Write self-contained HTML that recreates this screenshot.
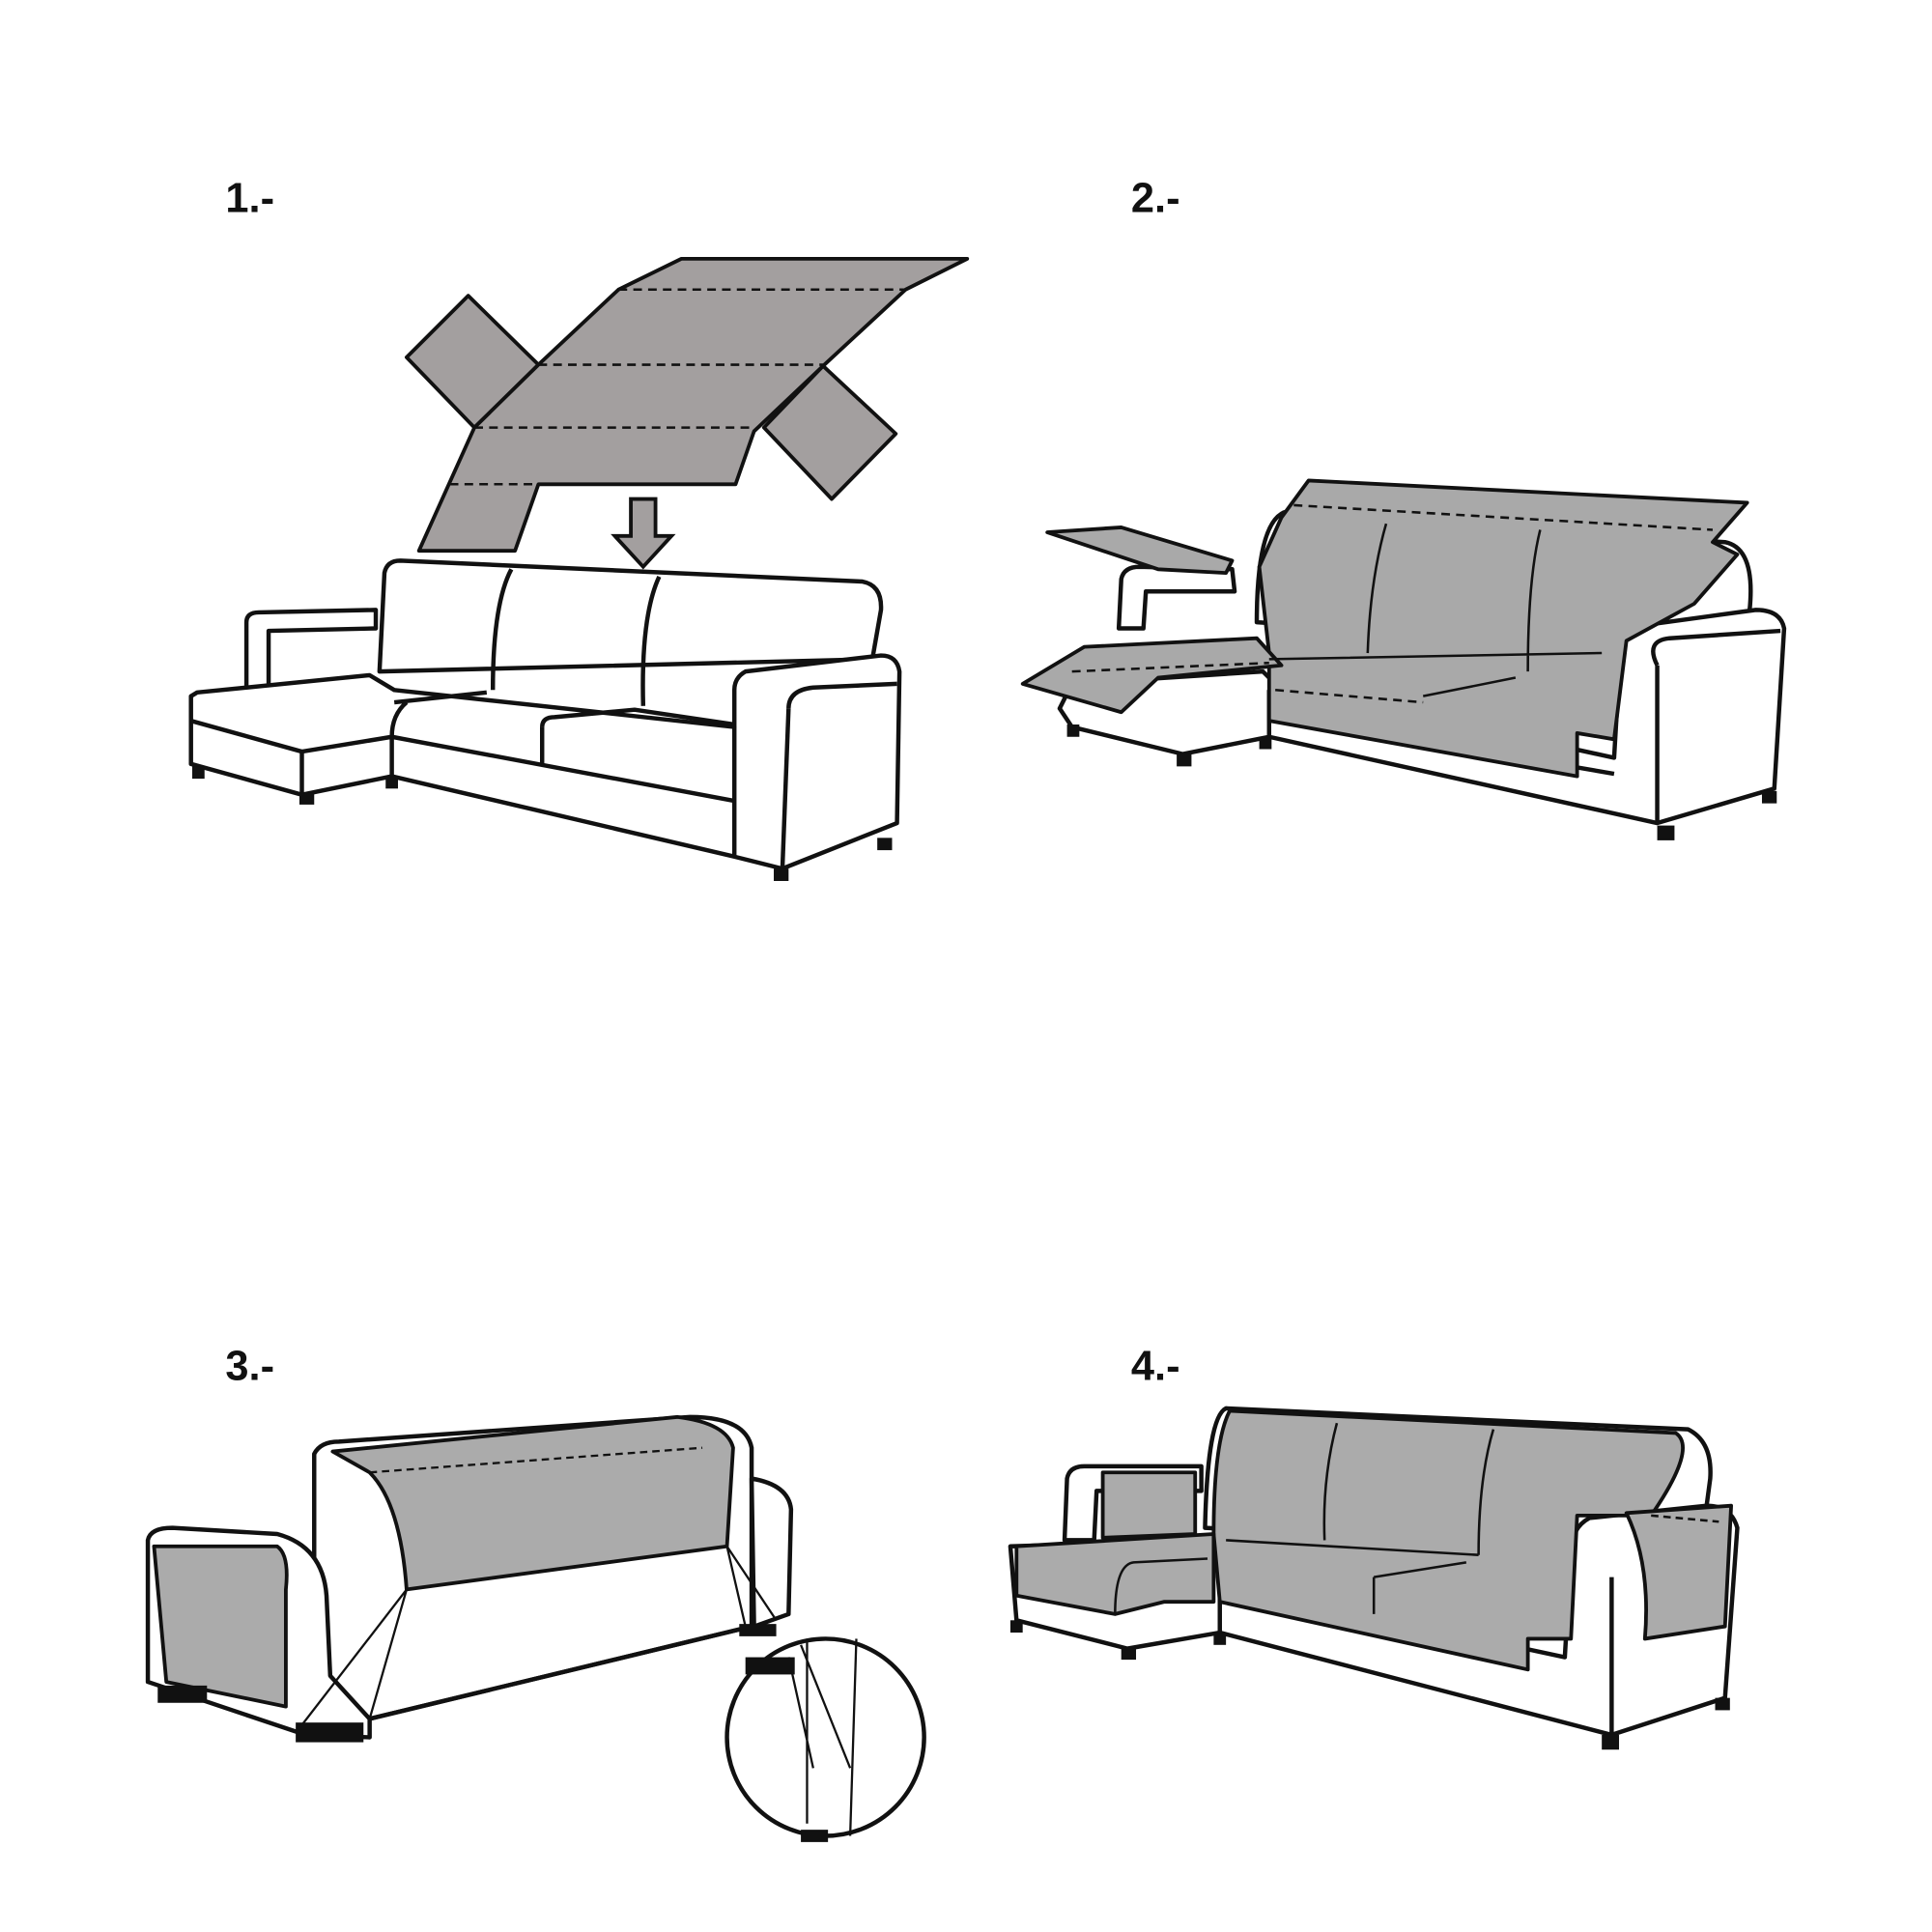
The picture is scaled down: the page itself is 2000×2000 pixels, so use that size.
<!DOCTYPE html>
<html><head><style>
html,body{margin:0;padding:0;background:#fff;}
svg{display:block;}
text{font-family:"Liberation Sans",Arial,sans-serif;font-weight:bold;font-size:34px;fill:#111;}
</style></head><body>
<svg width="2000" height="2000" viewBox="0 0 1568 1568" xmlns="http://www.w3.org/2000/svg">
<rect width="1568" height="1568" fill="#fff"/>
<text x="183" y="172">1.-</text>
<text x="918" y="172">2.-</text>
<text x="183" y="1120">3.-</text>
<text x="918" y="1120">4.-</text>

<g stroke="#111" stroke-width="3" fill="#a39f9f" stroke-linejoin="round">
<!-- panel 1 cover -->
<polygon points="330,290 380,240 437,296 385,347"/>
<polygon points="668,297 727,352 675,405 620,347"/>
<polygon points="553,210 785,210 735,235 668,297 612,350 597,393 437,393 418,447 340,447 385,347 437,296 502,235"/>
</g>
<g stroke="#111" stroke-width="2" stroke-dasharray="7,5" fill="none">
<line x1="502" y1="235" x2="735" y2="235"/>
<line x1="437" y1="296" x2="668" y2="296"/>
<line x1="385" y1="347" x2="612" y2="347"/>
<line x1="365" y1="393" x2="437" y2="393"/>
</g>
<polygon points="512,405 532,405 532,435 545,435 522,460 499,435 512,435" fill="#a39f9f" stroke="#111" stroke-width="3"/>

<!-- sofa 1 -->
<g stroke="#111" stroke-width="3.5" fill="#fff" stroke-linejoin="round">
<path d="M200,560 L200,505 Q200,497 210,497 L305,495 L305,510 L218,512 L218,560 Z"/>
<path d="M308,545 L312,465 Q314,455 325,455 L700,472 Q716,475 715,495 L708,535 L308,545 Z"/>
<path d="M155,565 L155,620 L245,645 L318,630 L595,695 L635,705 L728,668 L730,545 Q728,532 715,532 L605,545 Q596,550 596,560 L596,590 L320,560 L300,548 L160,562 Z"/>
<path d="M155,585 L245,610 L318,598 L596,650"/>
<path d="M245,610 L245,645 M318,598 L318,630 M596,590 L596,695"/>
<path d="M640,575 Q640,560 660,558 L728,555" fill="none"/>
<path d="M640,575 L635,705" fill="none"/>
<path d="M440,590 Q440,582 450,582 L515,576 L596,588" fill="none"/>
<path d="M440,590 L440,620" fill="none"/>
<path d="M320,570 L395,562 M318,598 Q318,580 330,570" fill="none"/>
<path d="M400,560 Q400,490 415,462 M522,573 Q520,500 535,468" fill="none"/>
</g>
<g fill="#111"><rect x="156" y="622" width="10" height="10"/><rect x="243" y="643" width="12" height="10"/><rect x="313" y="630" width="10" height="10"/><rect x="628" y="705" width="12" height="10"/><rect x="712" y="680" width="12" height="10"/></g>

<!-- panel 2 -->
<g stroke="#111" stroke-width="3.5" fill="#fff" stroke-linejoin="round">
<path d="M1020,505 Q1020,420 1045,415 L1400,440 Q1425,445 1420,495 L1400,530 Z"/>
<path d="M908,510 L910,470 Q912,460 925,460 L1000,462 L1002,480 L930,480 L928,510 Z"/>
<path d="M860,575 L870,590 L960,612 L1030,598 L1345,668 L1440,640 L1448,510 Q1445,495 1425,495 L1330,508 Q1315,515 1315,530 L1310,615 L1035,555 L1025,545 L870,555 Z"/>
<path d="M1030,560 L1030,598 M1345,540 Q1335,520 1355,518 L1445,512 M1345,540 L1345,668"/>
<path d="M1030,580 L1310,628"/>
</g>
<g stroke="#111" stroke-width="3" fill="#a9a9a9" stroke-linejoin="round">
<polygon points="1062,390 1418,408 1390,440 1410,450 1375,490 1320,520 1310,600 1280,595 1280,630 1030,585 1030,530 1022,460 1040,420"/>
<polygon points="850,432 910,428 1000,455 995,465 940,462"/>
<polygon points="830,555 880,525 1020,518 1040,540 940,550 910,578"/>
</g>
<g stroke="#111" stroke-width="2" fill="none">
<path d="M1125,425 Q1112,470 1110,530 M1250,430 Q1240,470 1240,545 M1030,535 L1300,530 M1155,565 L1230,550"/>
<path d="M1050,410 L1390,430 M870,545 L1030,538 M1035,560 L1155,570" stroke-dasharray="7,5"/>
</g>
<g fill="#111"><rect x="866" y="588" width="10" height="10"/><rect x="955" y="612" width="12" height="10"/><rect x="1022" y="598" width="10" height="10"/><rect x="1345" y="670" width="14" height="12"/><rect x="1430" y="642" width="12" height="10"/></g>

<!-- panel 3 -->
<g stroke="#111" stroke-width="3.5" fill="#fff" stroke-linejoin="round">
<path d="M255,1180 Q260,1170 275,1170 L560,1150 Q605,1150 610,1175 L610,1320 L300,1395 L255,1360 Z"/>
<path d="M610,1200 Q640,1205 642,1225 L640,1310 L612,1320 Z"/>
<path d="M120,1250 Q122,1240 140,1240 L225,1245 Q262,1255 265,1295 L268,1360 L300,1395 L300,1410 L248,1408 L120,1365 Z"/>
<path d="M300,1395 L610,1320"/>
<circle cx="670" cy="1410" r="80"/>
</g>
<g stroke="#111" stroke-width="3" fill="#ababab" stroke-linejoin="round">
<path d="M270,1178 L550,1150 Q590,1155 595,1175 L590,1255 L330,1290 Q325,1220 300,1195 Z"/>
<path d="M125,1255 L225,1255 Q235,1262 232,1290 L232,1385 L135,1365 Z"/>
</g>
<g stroke="#111" stroke-width="1.8" fill="none">
<path d="M300,1195 L570,1175" stroke-dasharray="6,4"/>
<path d="M330,1290 L245,1400 M330,1290 L300,1395 M590,1255 L630,1315 M590,1255 L605,1320 M640,1345 L660,1435 M650,1335 L690,1435 M655,1330 L655,1480 M695,1330 L690,1490"/>
</g>
<g fill="#111"><rect x="128" y="1368" width="40" height="14"/><rect x="240" y="1398" width="55" height="16"/><rect x="600" y="1318" width="30" height="10"/><rect x="650" y="1485" width="22" height="10"/><rect x="605" y="1345" width="40" height="14"/></g>

<!-- panel 4 -->
<g stroke="#111" stroke-width="3.5" fill="#fff" stroke-linejoin="round">
<path d="M978,1240 Q980,1150 995,1143 L1370,1160 Q1390,1170 1388,1200 L1380,1260 Z"/>
<path d="M864,1250 L866,1200 Q868,1190 880,1190 L975,1190 L975,1210 L890,1210 L888,1250 Z"/>
<path d="M820,1255 L825,1315 L915,1338 L990,1325 L1308,1408 L1400,1378 L1410,1240 Q1405,1222 1385,1222 L1290,1232 Q1275,1240 1275,1260 L1270,1345 L990,1285 L985,1250 Z"/>
<path d="M1308,1280 L1308,1408 M990,1285 L990,1325"/>
</g>
<g stroke="#111" stroke-width="3" fill="#ababab" stroke-linejoin="round">
<path d="M998,1145 L1360,1163 Q1378,1175 1340,1230 L1280,1230 L1275,1330 L1240,1330 L1240,1355 L990,1300 L985,1245 Q985,1170 998,1145 Z"/>
<path d="M825,1255 L985,1245 L985,1300 L945,1300 L905,1310 L825,1295 Z"/>
<path d="M1320,1228 L1405,1222 L1400,1320 L1335,1330 Q1340,1270 1320,1228 Z"/>
<path d="M895,1195 L970,1195 L970,1245 L895,1248 Z"/>
</g>
<g stroke="#111" stroke-width="2" fill="none">
<path d="M1085,1155 Q1073,1200 1075,1250 M1212,1160 Q1200,1200 1200,1262 M995,1250 L1200,1262 M1115,1280 L1190,1268 M1115,1280 L1115,1310 M905,1310 Q905,1270 920,1268 L980,1265"/>
<path d="M1340,1230 L1395,1235" stroke-dasharray="6,4"/>
</g>
<g fill="#111"><rect x="820" y="1315" width="10" height="10"/><rect x="910" y="1337" width="12" height="10"/><rect x="985" y="1325" width="10" height="10"/><rect x="1300" y="1408" width="14" height="12"/><rect x="1392" y="1378" width="12" height="10"/></g>
</svg>
</body></html>
